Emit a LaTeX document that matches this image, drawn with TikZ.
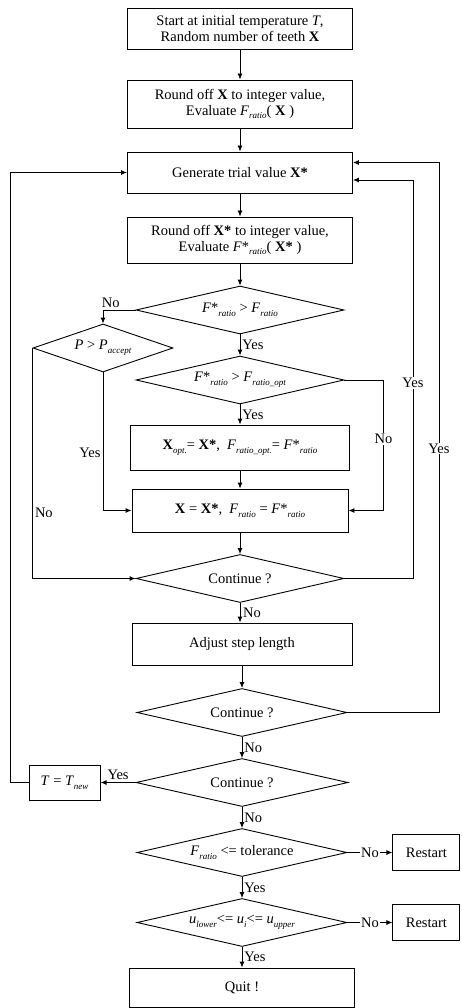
\documentclass[tikz,border=0pt]{standalone}
\usepackage{fontspec}
\setmainfont{Liberation Serif}
\usetikzlibrary{arrows.meta,positioning,shapes.geometric,calc}
\newcommand{\lsub}[1]{\raisebox{-0.55ex}{\fontsize{9}{9}\selectfont\itshape #1}}
\newcommand{\vX}{\textbf{X}}
\newcommand{\vXs}{\textbf{X*}}

\begin{document}
\begin{tikzpicture}[
x=1pt, y=-1pt,
node distance=22pt,
every node/.style={font=\fontsize{14.5}{16}\selectfont},
procbox/.style={draw, line width=0.9pt, align=center, inner sep=2pt, minimum width=225pt},
decide/.style={draw, line width=0.9pt, diamond, aspect=5, inner sep=0pt, minimum width=208pt, minimum height=48pt},
arr/.style={-{Latex[length=6pt,width=5pt]}, line width=0.9pt},
lbl/.style={inner sep=2pt},
cutlbl/.style={fill=white, inner sep=1pt}
]
\useasboundingbox (0,0) rectangle (461,1008);

% main column
\node[procbox, minimum height=41pt] (start) at (240,28.5) {Start at initial temperature \textit{T},\\ Random number of teeth \vX};
\node[procbox, minimum height=48pt] (roundX) at (240,104) {Round off \vX{} to integer value,\\ Evaluate \textit{F}\lsub{ratio}( \vX{} )};
\node[procbox, minimum height=41pt] (gen) at (240,172.5) {Generate trial value \vXs};
\node[procbox, minimum height=46pt] (roundXs) at (240,240) {Round off \vXs{} to integer value,\\ Evaluate \textit{F}*\lsub{ratio}( \vXs{} )};
\draw[arr] (start) -- (roundX); \draw[arr] (roundX) -- (gen); \draw[arr] (gen) -- (roundXs);

% acceptance tests
\node[decide] (better) at (240,310) {\textit{F}*\lsub{ratio} > \textit{F}\lsub{ratio}};
\node[decide] (best) at (240,380) {\textit{F}*\lsub{ratio} > \textit{F}\lsub{ratio\_opt}};
\node[decide, minimum width=140pt, aspect=3] (accept) at (103,348) {\textit{P} > \textit{P}\lsub{accept}};
\node[procbox, minimum width=219pt, minimum height=45pt] (setopt) at (240,447.5) {\vX\lsub{opt.}= \vXs,\ \ \textit{F}\lsub{ratio\_opt.}= \textit{F}*\lsub{ratio}};
\node[procbox, minimum width=216pt, minimum height=43pt] (setX) at (240,510.5) {\vX{} = \vXs,\ \ \textit{F}\lsub{ratio} = \textit{F}*\lsub{ratio}};
\draw[arr] (roundXs) -- (better);
\draw[arr] (better) -- node[right, lbl] (yesA) {Yes} (best);
\draw[arr] (better.west) -| node[pos=0.38, above, lbl] (noA) {No} (accept.north);
\draw[arr] (best) -- node[right, lbl] (yesB) {Yes} (setopt);
\draw[arr] (best.east) -| node[pos=0.725, cutlbl] (noB) {No} ([xshift=35pt]setX.east) -- (setX.east);
\draw[arr] (accept.south) |- node[pos=0.29, left, lbl] (yesC) {Yes} (setX.west);
\draw[arr] (setopt) -- (setX);

% inner and outer loops
\node[decide] (cont1) at (240,578.5) {Continue ?};
\node[procbox, minimum width=220pt, minimum height=42pt] (adjust) at (242,644) {Adjust step length};
\node[decide, minimum width=210pt] (cont2) at (242,712.5) {Continue ?};
\node[decide, minimum width=212pt] (cont3) at (242,782.5) {Continue ?};
\node[procbox, minimum width=71pt, minimum height=35pt, left=35pt of cont3] (newT) {\textit{T} = \textit{T}\lsub{new}};
\draw[arr] (accept.west) |- node[pos=0.357, right, lbl] (noC) {No} (cont1.west);
\draw[arr] (setX) -- (cont1);
\draw[arr] (cont1.east) -| node[pos=0.745, cutlbl] (yesD) {Yes} ([xshift=60pt, yshift=-7.5pt]gen.east) -- ([yshift=-7.5pt]gen.east);
\draw[arr] (cont1.south) -- (cont1.south |- adjust.north);
\path (cont1) -- node[right, lbl, xshift=1pt] (noD) {No} (cont1 |- adjust.north);
\draw[arr] (adjust) -- (cont2);
\draw[arr] (cont2.east) -| node[pos=0.74, cutlbl] (yesE) {Yes} ([xshift=86pt, yshift=10pt]gen.east) -- ([yshift=10pt]gen.east);
\draw[arr] (cont2) -- node[right, lbl] (noE) {No} (cont3);
\draw[arr] (cont3.west) -- node[above, lbl] (yesF) {Yes} (newT.east);
\draw[arr] (newT.west) -- ++(-18pt,0) |- (gen.west);

% final checks
\node[decide, minimum width=210pt] (tol) at (242,852.5) {\textit{F}\lsub{ratio} <= tolerance};
\node[decide, minimum width=210pt] (bounds) at (242,922.5) {\textit{u}\lsub{lower}<= \textit{u}\lsub{i}<= \textit{u}\lsub{upper}};
\node[procbox, minimum width=67pt, minimum height=36pt, right=45pt of tol] (restartA) {Restart};
\node[procbox, minimum width=67pt, minimum height=36pt, right=45pt of bounds] (restartB) {Restart};
\node[procbox, minimum height=39pt] (quit) at (242,987.5) {Quit !};
\draw[arr] (cont3) -- node[right, lbl] (noF) {No} (tol);
\draw[arr] (tol.east) -- node[cutlbl] (noG) {No} (restartA.west);
\draw[arr] (tol) -- node[right, lbl] (yesG) {Yes} (bounds);
\draw[arr] (bounds.east) -- node[cutlbl] (noH) {No} (restartB.west);
\draw[arr] (bounds) -- node[right, lbl] (yesH) {Yes} (quit);

\end{tikzpicture}
\end{document}
